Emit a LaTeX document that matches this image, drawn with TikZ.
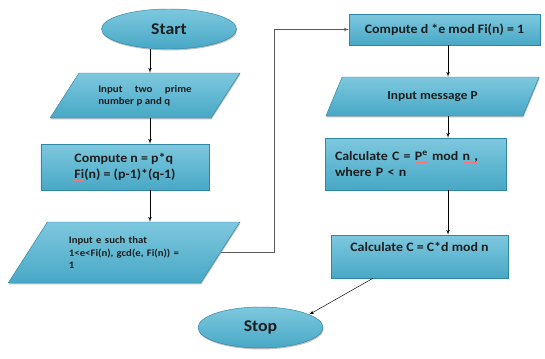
\documentclass[tikz,border=0pt]{standalone}
\usepackage{fontspec}
\setmainfont{Carlito}[FakeStretch=1.08]
\usetikzlibrary{arrows, shapes.geometric, shadows}
\definecolor{boxtop}{RGB}{125,200,222}
\definecolor{boxbot}{RGB}{72,168,198}
\definecolor{boxline}{RGB}{45,135,165}
\definecolor{txt}{RGB}{30,30,30}
\newcommand{\spell}[1]{\setbox0\hbox{#1}\rlap{\textcolor{red!55}{\rule[-1.5pt]{\wd0}{0.3pt}}}\box0}

\begin{document}
\begin{tikzpicture}[x=0.03cm, y=-0.03cm]
        \tikzset{block/.style = {draw=boxline, top color=boxtop, bottom color=boxbot, text=txt, inner sep=2pt, drop shadow={shadow xshift=0.5pt, shadow yshift=-1.2pt, opacity=0.5}}}
        \tikzset{term/.style = {block, shape=ellipse, font=\bfseries\fontsize{14}{16}\selectfont}}
        \tikzset{proc/.style = {block, shape=rectangle, font=\bfseries\fontsize{11}{14}\selectfont}}
        \tikzset{io/.style = {block, shape=trapezium, trapezium stretches=true}}
        \tikzset{edge/.style = {-,> = latex', black}}
        \useasboundingbox (0,0) rectangle (545,358);

        \coordinate (colA) at (150,0);
        \coordinate (colB) at (448,0);
        \coordinate (colC) at (373,0);
        \coordinate (turn) at (274,0);

        \node[term, minimum width=4.05cm, minimum height=1.2cm] (start) at (169,29) {Start};
        \node[io, trapezium left angle=50, trapezium right angle=130, minimum width=5.7cm, minimum height=1.35cm, text width=2.8cm, align=justify, font=\bfseries\fontsize{8.6}{10.5}\selectfont] (in1) at (145,95.5) {Input two prime \mbox{number} p and q};
        \node[proc, minimum width=5.04cm, minimum height=1.38cm, align=left] (comp1) at (125,167) {Compute n = p*q\\\spell{Fi}(n) = (p-1)*(q-1)};
        \node[io, trapezium left angle=51, trapezium right angle=129, minimum width=6.96cm, minimum height=1.83cm, text width=3.3cm, align=left, font=\bfseries\fontsize{8.5}{10.5}\selectfont] (in2) at (124,252.5) {Input e such that\\1<e<\spell{Fi}(n), \spell{gcd}(e, \spell{Fi}(n)) =\\1};
        \node[proc, minimum width=5.73cm, minimum height=0.93cm] (comp2) at (444.5,29.5) {Compute d *e mod \spell{Fi}(n) = 1};
        \node[io, trapezium left angle=60, trapezium right angle=120, minimum width=6.45cm, minimum height=1.17cm, font=\bfseries\fontsize{10.5}{12}\selectfont] (in3) at (432.5,96.5) {Input message P};
        \node[proc, minimum width=5.43cm, minimum height=1.56cm, text width=4.83cm, align=left] (calc1) at (415.5,164) {Calculate C = \spell{P\textsuperscript{e}}\ mod \spell{n ,}\\where P < n};
        \node[proc, minimum width=5.31cm, minimum height=1.29cm, align=center] (calc2) at (419.5,256.5) {Calculate C = C*d mod n\\[2pt]\mbox{}};
        \node[term, minimum width=3.75cm, minimum height=1.23cm] (stop) at (260.5,327.5) {Stop};

        \draw[edge,->] (start.south -| colA) to (in1.north -| colA);
        \draw[edge,->] (in1.south -| colA) to (comp1.north -| colA);
        \draw[edge,->] (comp1.south -| colA) to (in2.north -| colA);
        \draw[edge,->,gray!70!black] (in2.east) -- (in2.east -| turn) |- (comp2.west);
        \draw[edge,->] (comp2.south -| colB) to (in3.north -| colB);
        \draw[edge,->] (in3.south -| colB) to (calc1.north -| colB);
        \draw[edge,->] (calc1.south -| colB) to (calc2.north -| colB);
        \draw[edge,->] (calc2.south -| colC) to (stop.15);
      \end{tikzpicture}
\end{document}
